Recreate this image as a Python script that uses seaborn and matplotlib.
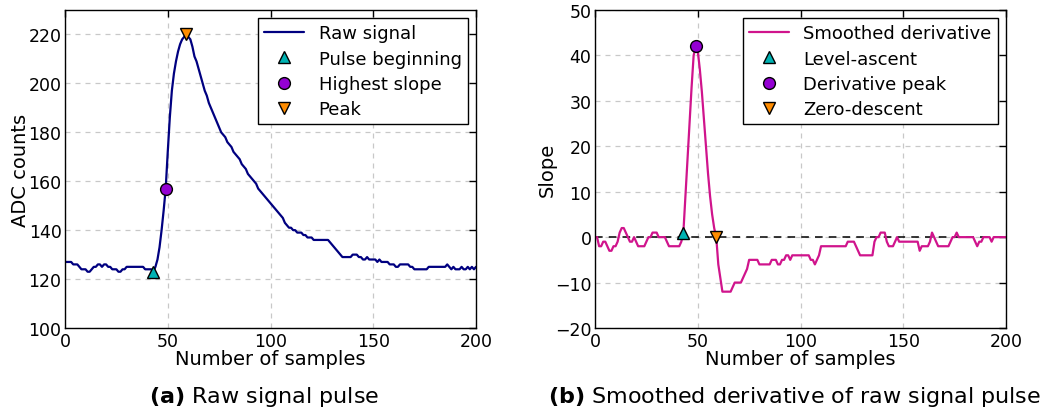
import numpy as np
import pandas as pd
import matplotlib
matplotlib.use("Agg")
import matplotlib.pyplot as plt
import seaborn as sns

# ---------------- data ----------------
samples = list(range(201))

raw_signal = [
    127, 127, 127, 127, 126, 126, 126, 125, 124, 124,   # 0-9
    124, 123, 123, 124, 125, 125, 126, 126, 125, 126,   # 10-19
    126, 125, 125, 124, 124, 124, 123, 123, 124, 124,   # 20-29
    125, 125, 125, 125, 125, 125, 125, 125, 125, 124,   # 30-39
    124, 124, 124, 123, 125, 128, 133, 140, 148, 157,   # 40-49
    172, 186, 197, 204, 209, 213, 216, 218, 219, 220,   # 50-59
    219, 218, 215, 211, 209, 206, 203, 200, 197, 195,   # 60-69
    192, 190, 188, 186, 184, 182, 180, 179, 178, 176,   # 70-79
    175, 174, 172, 171, 170, 169, 167, 166, 165, 163,   # 80-89
    162, 161, 160, 159, 157, 156, 155, 154, 153, 152,   # 90-99
    151, 150, 149, 148, 147, 146, 145, 143, 142, 141,   # 100-109
    141, 140, 140, 139, 139, 139, 138, 138, 137, 137,   # 110-119
    137, 136, 136, 136, 136, 136, 136, 136, 136, 135,   # 120-129
    134, 133, 132, 131, 130, 129, 129, 129, 129, 129,   # 130-139
    130, 130, 130, 129, 129, 128, 128, 129, 128, 128,   # 140-149
    128, 128, 127, 128, 127, 127, 127, 127, 126, 126,   # 150-159
    126, 125, 125, 126, 126, 126, 126, 126, 125, 125,   # 160-169
    124, 124, 124, 124, 124, 124, 124, 125, 125, 125,   # 170-179
    125, 125, 125, 125, 125, 125, 126, 125, 124, 125,   # 180-189
    124, 124, 124, 125, 124, 124, 125, 124, 125, 124,   # 190-199
    125,                                                # 200
]

smoothed_derivative = [
    0, 0, -2, -2, -1, -1, -2, -3, -3, -2,              # 0-9
    -2, -1, 1, 2, 2, 1, 0, -1, -1, 0,                  # 10-19
    -1, -2, -2, -2, -2, -1, 0, 0, 1, 1,                # 20-29
    1, 0, 0, 0, 0, -1, -2, -2, -2, -2,                 # 30-39
    -2, -2, -1, 1, 9, 17, 25, 33, 40, 42,              # 40-49
    41, 37, 32, 26, 20, 14, 9, 5, 2, 0,                # 50-59
    -6, -9, -12, -12, -12, -12, -12, -11, -10, -10,    # 60-69
    -10, -10, -9, -8, -7, -5, -5, -5, -5, -5,          # 70-79
    -6, -6, -6, -6, -6, -6, -5, -5, -5, -6,            # 80-89
    -6, -5, -5, -4, -4, -5, -4, -4, -4, -4,            # 90-99
    -4, -4, -4, -4, -4, -5, -5, -6, -5, -4,            # 100-109
    -2, -2, -2, -2, -2, -2, -2, -2, -2, -2,            # 110-119
    -2, -2, -2, -1, -1, -1, -1, -2, -3, -4,            # 120-129
    -4, -4, -4, -4, -4, -4, -1, 0, 0, 1,               # 130-139
    1, 1, -1, -2, -2, -2, -1, 0, -1, -1,               # 140-149
    -1, -1, -1, -1, -1, -1, -1, -1, -3, -2,            # 150-159
    -2, -2, -2, -1, 1, 0, -1, -2, -2, -2,              # 160-169
    -2, -2, -2, -1, 0, 0, 1, 0, 0, 0,                  # 170-179
    0, 0, 0, 0, 0, -1, -2, -1, -1, 0,                  # 180-189
    0, 0, 0, -1, 0, 0, 0, 0, 0, 0,                     # 190-199
    0,                                                 # 200
]

# key points (sample index)
pulse_beginning = 43
highest_slope = 49
peak = 59
level_ascent = 43
derivative_peak = 49
zero_descent = 59

raw_labels = ["Raw signal", "Pulse beginning", "Highest slope", "Peak"]
der_labels = ["Smoothed derivative", "Level-ascent", "Derivative peak", "Zero-descent"]
captions = [r"$\mathbf{(a)}$ Raw signal pulse",
            r"$\mathbf{(b)}$ Smoothed derivative of raw signal pulse"]

df = pd.DataFrame({"sample": samples, "raw": raw_signal, "deriv": smoothed_derivative})

# ---------------- style ----------------
sns.set_theme(style="white")
plt.rcParams.update({
    "font.family": ["DejaVu Sans"],
    "mathtext.fontset": "dejavusans",
    "text.color": "black",
    "axes.labelcolor": "black",
    "xtick.direction": "in",
    "ytick.direction": "in",
    "xtick.top": True,
    "ytick.right": True,
    "xtick.major.size": 5,
    "ytick.major.size": 5,
    "xtick.major.width": 1,
    "ytick.major.width": 1,
    "xtick.major.pad": 3,
    "ytick.major.pad": 2.5,
    "xtick.color": "black",
    "ytick.color": "black",
    "axes.edgecolor": "black",
    "axes.linewidth": 1.0,
    "xtick.labelsize": 12.5,
    "ytick.labelsize": 12.5,
    "axes.labelsize": 14,
    "legend.fontsize": 13,
})

fig = plt.figure(figsize=(10.46, 4.14), dpi=100)
ax1 = fig.add_axes([65 / 1046, 1 - 329 / 414, 411 / 1046, 318 / 414])
ax2 = fig.add_axes([595 / 1046, 1 - 329 / 414, 411 / 1046, 318 / 414])

grid_kw = dict(color="#c8c8c8", linestyle=(0, (4, 4)), linewidth=0.9)
marker_kw = dict(linestyle="none", markersize=8.5, markeredgecolor="black", markeredgewidth=1.0)
c_up, c_circ, c_down = "#00b2b2", "#9400d3", "#ff8c00"

# ----- left panel -----
sns.lineplot(data=df, x="sample", y="raw", ax=ax1, color="#000080", linewidth=1.6,
             label=raw_labels[0])
ax1.plot(df["sample"][pulse_beginning], df["raw"][pulse_beginning], marker="^",
         color=c_up, label=raw_labels[1], **marker_kw)
ax1.plot(df["sample"][highest_slope], df["raw"][highest_slope], marker="o",
         color=c_circ, label=raw_labels[2], **marker_kw)
ax1.plot(df["sample"][peak], df["raw"][peak], marker="v",
         color=c_down, label=raw_labels[3], **marker_kw)
ax1.set_xlim(0, 200)
ax1.set_ylim(100, 230)
ax1.set_xticks([0, 50, 100, 150, 200])
ax1.set_yticks([100, 120, 140, 160, 180, 200, 220])
ax1.set_xlabel("Number of samples", labelpad=-1)
ax1.set_ylabel("ADC counts", labelpad=-1)
ax1.grid(True, **grid_kw)

# ----- right panel -----
sns.lineplot(data=df, x="sample", y="deriv", ax=ax2, color="#d0148c", linewidth=1.6,
             label=der_labels[0])
ax2.axhline(0, color="black", linestyle=(0, (5, 4)), linewidth=1.1, zorder=1.5)
ax2.plot(df["sample"][level_ascent], df["deriv"][level_ascent], marker="^",
         color=c_up, label=der_labels[1], **marker_kw)
ax2.plot(df["sample"][derivative_peak], df["deriv"][derivative_peak], marker="o",
         color=c_circ, label=der_labels[2], **marker_kw)
ax2.plot(df["sample"][zero_descent], df["deriv"][zero_descent], marker="v",
         color=c_down, label=der_labels[3], **marker_kw)
ax2.set_xlim(0, 200)
ax2.set_ylim(-20, 50)
ax2.set_xticks([0, 50, 100, 150, 200])
ax2.set_yticks([-20, -10, 0, 10, 20, 30, 40, 50])
ax2.set_xlabel("Number of samples", labelpad=-1)
ax2.set_ylabel("Slope", labelpad=-1)
ax2.grid(True, **grid_kw)

for ax in (ax1, ax2):
    ax.set_axisbelow(True)
    for s in ax.spines.values():
        s.set_visible(True)
        s.set_color("black")
    leg = ax.legend(loc="upper right", numpoints=1, frameon=True, fancybox=False,
                    framealpha=1, edgecolor="black", borderaxespad=0.45,
                    handlelength=2.2, labelspacing=0.4, borderpad=0.35)
    leg.get_frame().set_linewidth(1.0)

fig.text(264 / 1046, 1 - 397 / 414, captions[0], ha="center", va="center", fontsize=16)
fig.text(794 / 1046, 1 - 397 / 414, captions[1], ha="center", va="center", fontsize=16)

fig.savefig("out.png", dpi=100)
